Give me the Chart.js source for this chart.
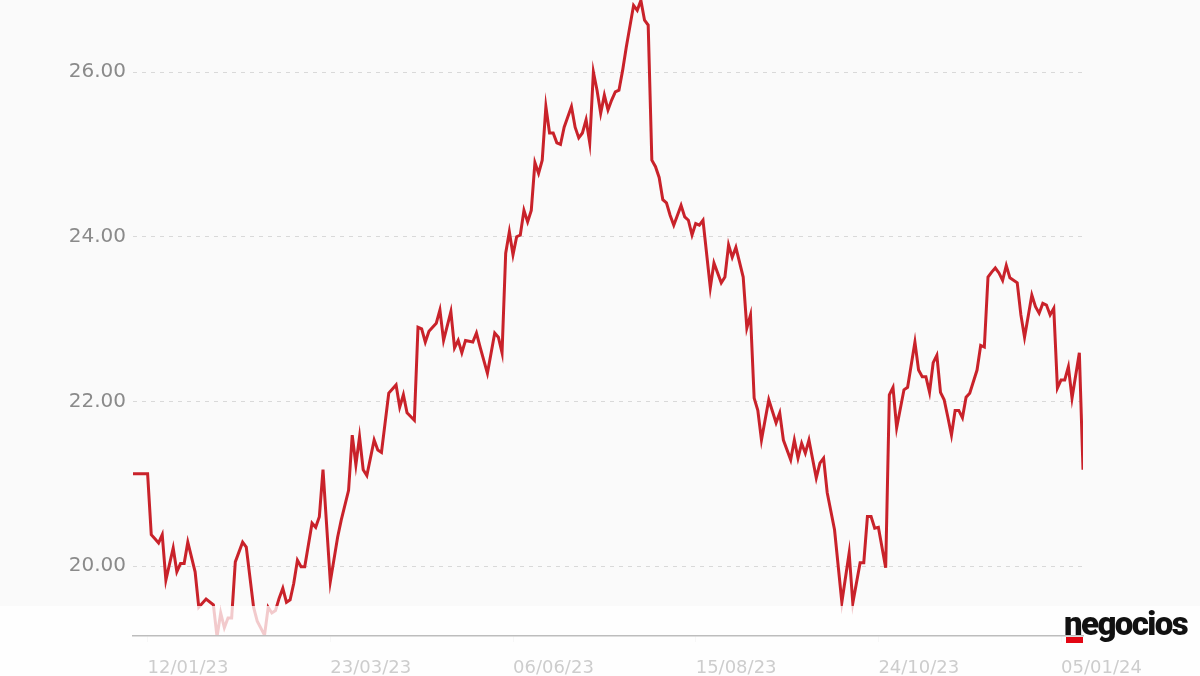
<!DOCTYPE html>
<html>
<head>
<meta charset="utf-8">
<script src="https://cdn.jsdelivr.net/npm/chart.js@4.4.0/dist/chart.umd.min.js"></script>
<style>
  html, body { margin: 0; padding: 0; background: #fafafa; }
  #wrap { position: relative; width: 1200px; height: 676px; overflow: hidden; }
  #logoBar { position: absolute; left: 1066px; top: 637px; width: 17px; height: 6px; background: #e30613; }
  #logo { position: absolute; left: 1064px; top: 604px; font-family: Roboto, sans-serif; font-weight: 900;
          font-size: 33px; letter-spacing: -1.6px; color: #111; line-height: 40px; }
</style>
</head>
<body>
<div id="wrap">
  <canvas id="chart" width="1200" height="676"></canvas>
  <div id="logoBar"></div>
  <div id="logo">negocios</div>
</div>
<script>
// trading day (0 = first point) and closing price
const days = [
  0, 4, 5, 6, 7, 8, 9, 11, 12, 13, 14, 15, 17, 18, 20, 22, 23, 24, 25, 26, 27, 28, 30, 31, 33, 34, 36, 37, 38, 39,
  40, 41, 42, 43, 44, 45, 46, 47, 49, 50, 51, 52, 54, 56, 57, 59, 60, 61, 62, 63, 64, 66, 67, 68, 70, 72, 73, 74, 75, 77,
  78, 79, 80, 81, 82, 83, 84, 85, 87, 88, 89, 90, 91, 93, 94, 95, 97, 99, 100, 101, 102, 103, 104, 105, 106, 107, 108, 109, 110, 111,
  112, 113, 114, 115, 116, 117, 118, 120, 121, 122, 123, 124, 125, 126, 127, 128, 129, 130, 131, 132, 133, 134, 135, 137, 138, 139, 140, 141, 142, 143,
  144, 145, 146, 147, 148, 150, 151, 152, 153, 154, 155, 156, 158, 159, 161, 162, 163, 164, 165, 167, 168, 169, 170, 171, 172, 174, 176, 177, 178, 180,
  181, 182, 183, 184, 185, 187, 188, 189, 190, 192, 194, 196, 197, 199, 200, 201, 202, 203, 204, 206, 207, 208, 209, 211, 212, 214, 215, 216, 217, 218,
  219, 220, 221, 222, 223, 224, 225, 226, 227, 228, 229, 231, 232, 233, 234, 235, 236, 237, 238, 239, 240, 242, 243, 244, 246, 247, 248, 249, 250, 251,
  252, 253, 254, 255, 256, 257, 259, 260
];
const prices = [
  21.12, 21.12, 20.38, 20.33, 20.28, 20.38, 19.83, 20.22, 19.93, 20.03, 20.03, 20.29, 19.93, 19.50, 19.60, 19.53, 19.14, 19.43, 19.25, 19.37, 19.37, 20.05, 20.29, 20.23, 19.50, 19.33, 19.16, 19.50, 19.43, 19.46,
  19.61, 19.73, 19.56, 19.59, 19.79, 20.07, 19.99, 19.99, 20.52, 20.47, 20.60, 21.17, 19.81, 20.35, 20.56, 20.92, 21.59, 21.23, 21.57, 21.17, 21.10, 21.53, 21.41, 21.38, 22.10, 22.20, 21.93, 22.08, 21.86, 21.77,
  22.90, 22.88, 22.72, 22.85, 22.90, 22.95, 23.11, 22.74, 23.09, 22.65, 22.74, 22.59, 22.74, 22.72, 22.83, 22.66, 22.34, 22.83, 22.78, 22.59, 23.80, 24.06, 23.78, 24.00, 24.02, 24.32, 24.18, 24.32, 24.90, 24.77,
  24.93, 25.58, 25.26, 25.26, 25.14, 25.12, 25.33, 25.58, 25.33, 25.20, 25.26, 25.42, 25.14, 26.00, 25.78, 25.50, 25.72, 25.54, 25.66, 25.76, 25.78, 26.02, 26.30, 26.81, 26.75, 26.87, 26.63, 26.57, 24.93, 24.85,
  24.72, 24.45, 24.41, 24.26, 24.14, 24.38, 24.24, 24.20, 24.02, 24.16, 24.14, 24.20, 23.38, 23.68, 23.44, 23.51, 23.90, 23.75, 23.87, 23.51, 22.89, 23.05, 22.04, 21.89, 21.53, 22.02, 21.74, 21.86, 21.53, 21.29,
  21.53, 21.31, 21.49, 21.37, 21.53, 21.07, 21.25, 21.31, 20.89, 20.44, 19.56, 20.16, 19.55, 20.04, 20.04, 20.60, 20.60, 20.46, 20.47, 19.98, 22.08, 22.17, 21.68, 22.14, 22.17, 22.72, 22.38, 22.30, 22.30, 22.11,
  22.47, 22.56, 22.11, 22.02, 21.81, 21.59, 21.89, 21.89, 21.80, 22.05, 22.10, 22.38, 22.68, 22.66, 23.51, 23.57, 23.62, 23.56, 23.47, 23.65, 23.50, 23.44, 23.05, 22.78, 23.29, 23.15, 23.07, 23.19, 23.17, 23.05,
  23.13, 22.16, 22.26, 22.26, 22.42, 22.04, 22.59, 21.17
];
const tickDays = [4, 54, 104, 154, 204, 254];
const tickLabels = ['12/01/23', '23/03/23', '06/06/23', '15/08/23', '24/10/23', '05/01/24'];
const yTicks = [20, 22, 24, 26];

// white veil over the bottom strip, drawn above the line but under the x axis
const fadeBand = {
  id: 'fadeBand',
  afterDatasetsDraw(chart) {
    const c = chart.ctx;
    c.save();
    c.fillStyle = 'rgba(255, 255, 255, 0.76)';
    c.fillRect(0, 606, chart.width, chart.height - 606);
    c.restore();
  }
};

new Chart(document.getElementById('chart'), {
  type: 'line',
  data: {
    datasets: [{
      data: days.map((d, i) => ({ x: d, y: prices[i] })),
      borderColor: '#c9222a',
      borderWidth: 3,
      pointRadius: 0,
      tension: 0
    }]
  },
  options: {
    responsive: false,
    animation: false,
    layout: { padding: { left: 0, right: 117, top: 0, bottom: 0 } },
    plugins: { legend: { display: false }, tooltip: { enabled: false } },
    scales: {
      x: {
        type: 'linear',
        min: 0,
        max: 260,
        afterBuildTicks: s => { s.ticks = tickDays.map(v => ({ value: v })); },
        afterFit: s => { s.height = 40; },
        grid: { drawOnChartArea: false, drawTicks: true, tickLength: 6, color: '#dddddd' },
        border: { display: true, color: '#bdbdbd', width: 1.5, z: 1 },
        ticks: {
          z: 1,
          align: 'start',
          padding: 16,
          color: '#cdcdcd',
          maxRotation: 0,
          autoSkip: false,
          font: { family: 'DejaVu Sans', size: 18 },
          callback: v => tickLabels[tickDays.indexOf(v)]
        }
      },
      y: {
        min: 19.15,
        max: 26.875,
        afterBuildTicks: s => { s.ticks = yTicks.map(v => ({ value: v })); },
        afterFit: s => { s.width = 133; s.paddingTop = 0; s.paddingBottom = 0; },
        grid: { color: '#d9d9d9', drawTicks: false },
        border: { display: false, dash: [4, 5] },
        ticks: {
          padding: 7,
          color: '#8a8a8a',
          font: { family: 'DejaVu Sans', size: 20 },
          callback: v => v.toFixed(2)
        }
      }
    }
  },
  plugins: [fadeBand]
});
</script>
</body>
</html>
